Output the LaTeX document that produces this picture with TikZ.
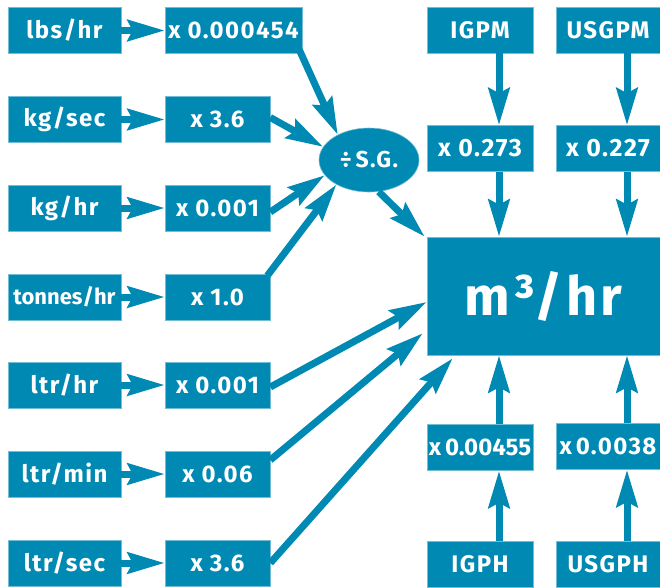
\documentclass[tikz,border=0pt]{standalone}
\usepackage{fontspec}
\setmainfont{Fira Sans}
\newfontfamily\lblfont[LetterSpace=6]{Fira Sans}
\usetikzlibrary{arrows.meta,shapes.geometric}
\definecolor{boxc}{RGB}{0,137,178}
\begin{document}
\begin{tikzpicture}[x=1pt,y=-1pt,
  box/.style={fill=boxc,draw=boxc!55!white,line width=0.6pt,text=white,inner sep=0pt,
    font=\lblfont\fontsize{24}{26}\selectfont\bfseries,minimum height=46pt},
  unitbox/.style={box,minimum width=113pt},
  mulbox/.style={box,minimum width=105pt},
  rbox/.style={box,minimum width=106pt},
  conv/.style={draw=boxc,line width=7pt,-{Stealth[length=37pt,width=21pt,inset=5pt]}}]
\useasboundingbox (0,0) rectangle (660,587);
% left column
\node[unitbox] (u1) at (64.5,30.5) {lbs/hr};
\node[unitbox] (u2) at (64.5,119.5) {kg/sec};
\node[unitbox] (u3) at (64.5,208) {kg/hr};
\node[unitbox,font=\rmfamily\fontsize{22}{24}\selectfont\bfseries] (u4) at (64.5,297) {tonnes/hr};
\node[unitbox] (u5) at (64.5,385) {ltr/hr};
\node[unitbox] (u6) at (64.5,474) {ltr/min};
\node[unitbox] (u7) at (64.5,563) {ltr/sec};
% multipliers
\node[box,minimum width=137pt] (m1) at (233.5,30.5) {x 0.000454};
\node[mulbox] (m2) at (217.5,119.5) {x 3.6};
\node[mulbox] (m3) at (217.5,208) {x 0.001};
\node[mulbox] (m4) at (217.5,297) {x 1.0};
\node[mulbox] (m5) at (217.5,385) {x 0.001};
\node[mulbox] (m6) at (217.5,474) {x 0.06};
\node[mulbox] (m7) at (217.5,563) {x 3.6};
% ellipse
\node[ellipse,fill=boxc,draw=boxc!55!white,line width=0.6pt,minimum width=100pt,minimum height=64pt,
  inner sep=0pt,text=white,font=\lblfont\fontsize{23}{25}\selectfont\bfseries] (sg) at (369,160) {÷\,S.G.};
% big box
\node[box,minimum width=233pt,minimum height=118pt,font=\lblfont\fontsize{54}{58}\selectfont\bfseries] (big) at (543.5,296) {m³/hr};
% right columns
\node[rbox] (igpm) at (480,30) {IGPM};
\node[rbox,minimum width=104pt] (usgpm) at (608,30) {USGPM};
\node[rbox,font=\lblfont\fontsize{25}{27}\selectfont\bfseries] (r1) at (480,148.5) {x 0.273};
\node[rbox,minimum width=104pt,font=\lblfont\fontsize{25}{27}\selectfont\bfseries] (r2) at (608,148.5) {x 0.227};
\node[rbox,font=\rmfamily\fontsize{24}{26}\selectfont\bfseries] (r3) at (480,447.5) {x\,0.00455};
\node[rbox,minimum width=104pt] (r4) at (608,446.5) {x\,0.0038};
\node[rbox] (igph) at (480,564) {IGPH};
\node[rbox,minimum width=104pt] (usgph) at (608,564) {USGPH};
% horizontal arrows
\foreach \i in {1,...,7}{\draw[conv] (u\i.east) -- (m\i.west);}
% into S.G.
\draw[conv] ([xshift=-3pt,yshift=4pt]m1.south east) -- (sg.141);
\draw[conv] ([yshift=2pt]m2.east) -- (sg.164);
\draw[conv] ([yshift=-4pt]m3.east) -- (sg.199);
\draw[conv] ([xshift=-3pt,yshift=-2pt]m4.north east) -- (sg.217);
\draw[conv] (sg.287) -- ([xshift=-2pt]big.north west);
% into big box from lower rows
\draw[conv] ([yshift=-2pt]m5.east) -- ([yshift=-6pt]big.west);
\draw[conv] ([yshift=14pt]m6.east) -- ([xshift=-4pt,yshift=22pt]big.south west);
\draw[conv] (m7.east) -- ([xshift=26pt,yshift=-3pt]big.south west);
% vertical arrows
\draw[conv] ([xshift=19pt]igpm.south) -- ([xshift=19pt]r1.north);
\draw[conv] ([xshift=19pt]usgpm.south) -- ([xshift=19pt]r2.north);
\draw[conv] ([xshift=19pt]r1.south) -- ([xshift=19pt]r1.south |- big.north);
\draw[conv] ([xshift=19pt]r2.south) -- ([xshift=19pt]r2.south |- big.north);
\draw[conv] ([xshift=19pt]r3.north) -- ([xshift=19pt]r3.north |- big.south);
\draw[conv] ([xshift=19pt]r4.north) -- ([xshift=19pt]r4.north |- big.south);
\draw[conv] ([xshift=19pt]igph.north) -- ([xshift=19pt]r3.south);
\draw[conv] ([xshift=19pt]usgph.north) -- ([xshift=19pt]r4.south);
\end{tikzpicture}
\end{document}
